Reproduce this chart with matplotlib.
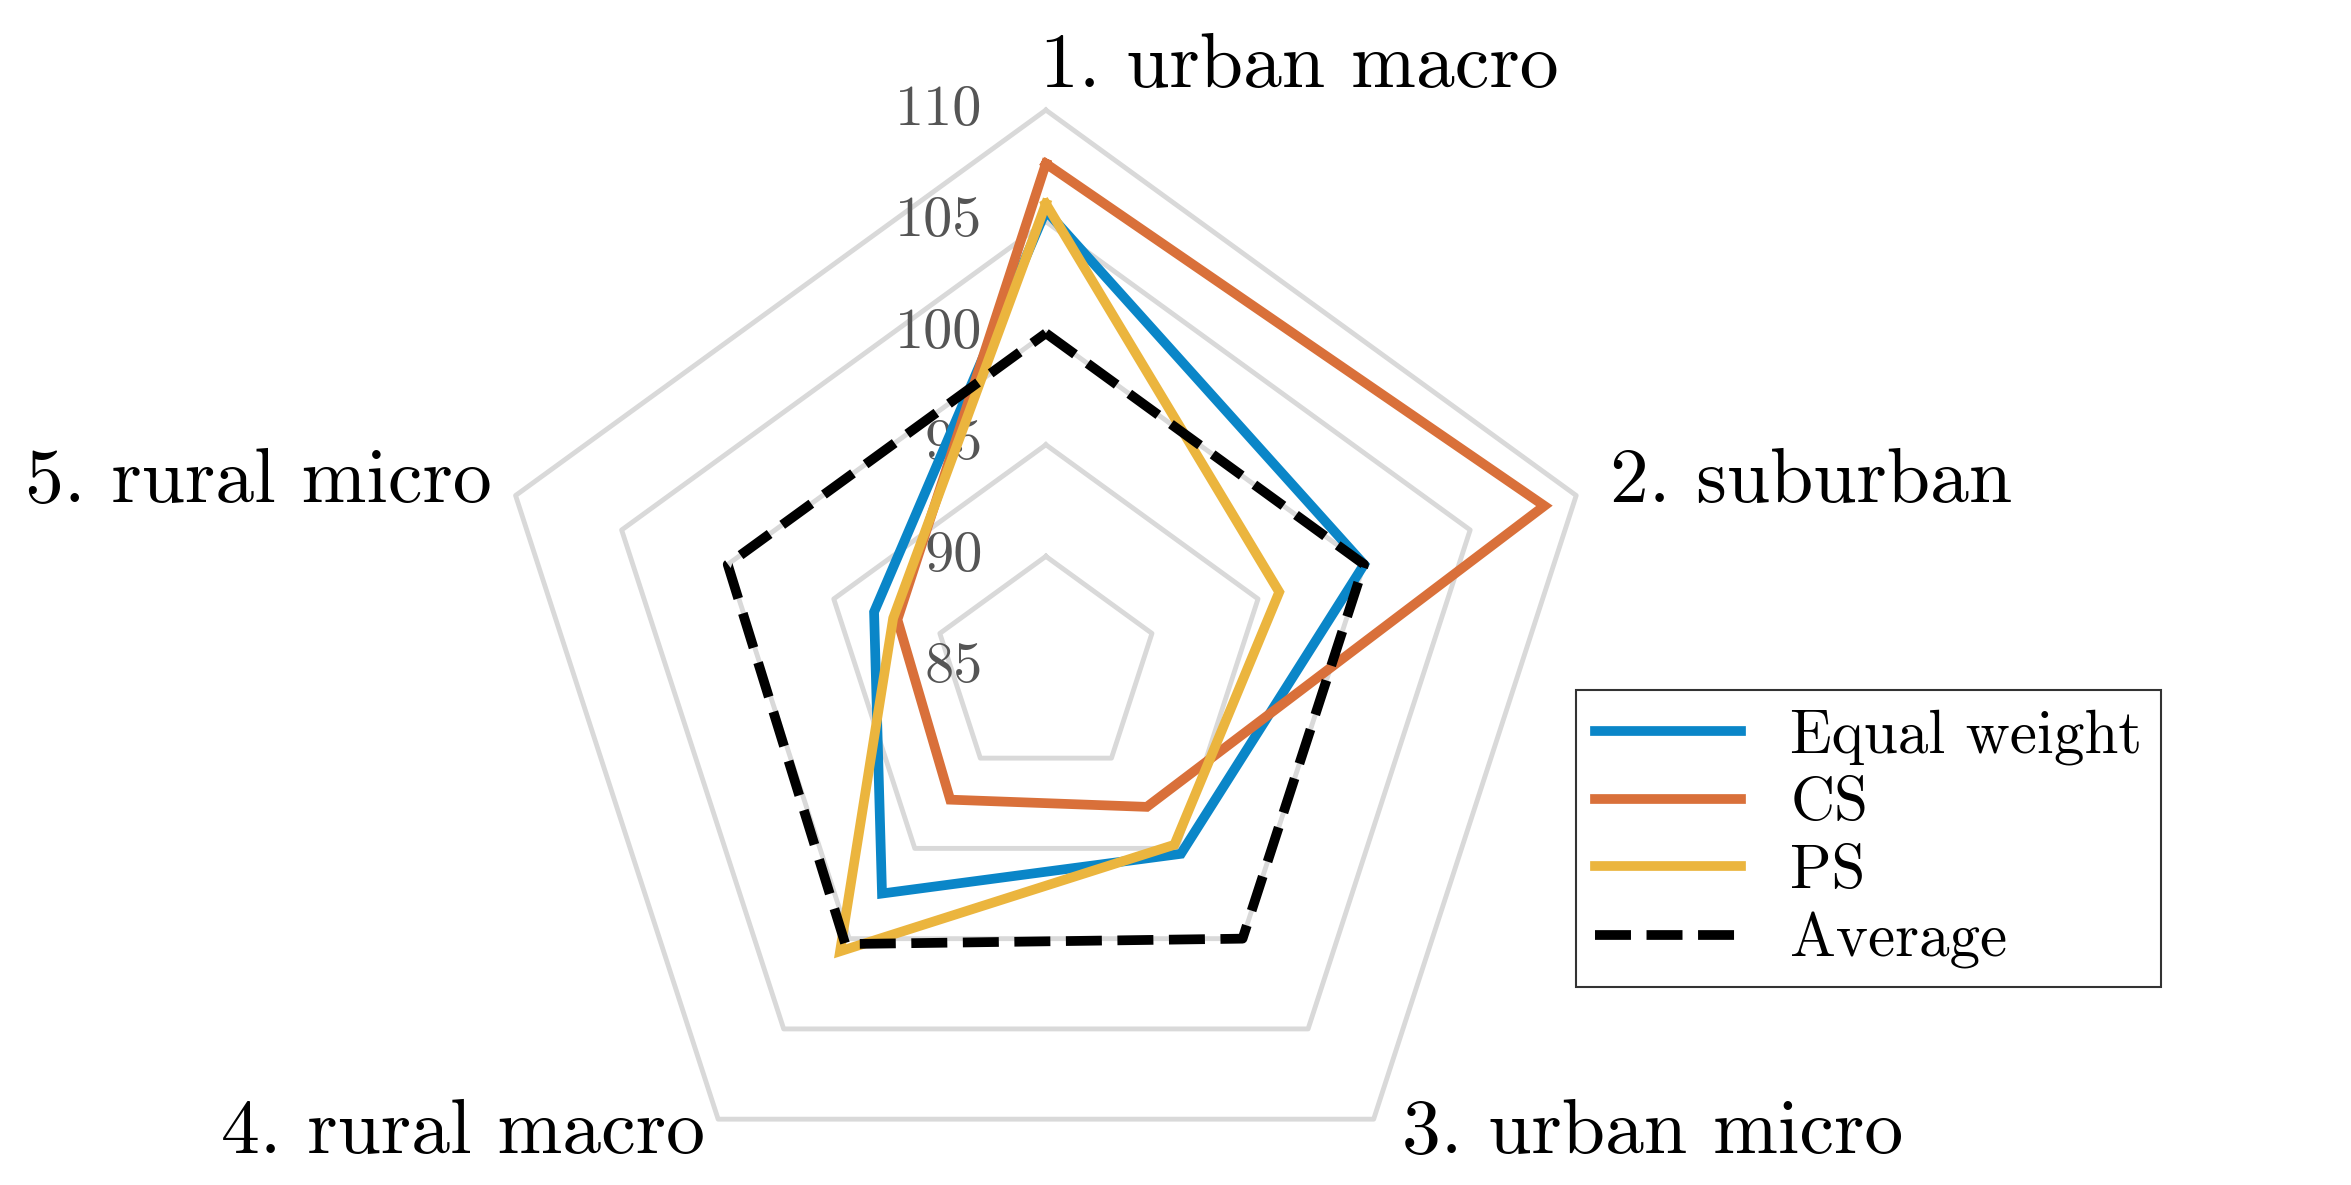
import numpy as np
import matplotlib
matplotlib.use("Agg")
import matplotlib.pyplot as plt

plt.rcParams['font.family'] = ['serif']
plt.rcParams['font.serif'] = ['cmr10', 'DejaVu Serif']
plt.rcParams['axes.unicode_minus'] = False

categories = ["1. urban macro", "2. suburban", "3. urban micro", "4. rural macro", "5. rural micro"]
equal_weight = [105.5, 100.0, 95.3, 97.5, 93.1]
cs = [107.6, 108.5, 92.7, 92.3, 92.0]
ps = [105.8, 96.0, 94.8, 100.7, 92.2]
average = [100.0, 100.0, 100.0, 100.3, 100.0]
rings = [90, 95, 100, 105, 110]
tick_labels = ["85", "90", "95", "100", "105", "110"]
rmin = 85

cx, cy, scale = 694, 443, 14.8
angles = np.deg2rad(90 - 72 * np.arange(5))

def xy(vals):
    r = (np.asarray(vals, float) - rmin) * scale
    x = cx + r * np.cos(angles)
    y = cy - r * np.sin(angles)
    return np.append(x, x[0]), np.append(y, y[0])

fig = plt.figure(figsize=(23.51, 11.85), dpi=100)
ax = fig.add_axes([0, 0, 1, 1])
ax.set_xlim(0, 1560)
ax.set_ylim(786, 0)
ax.axis('off')

for rv in rings:
    x, y = xy([rv] * 5)
    ax.plot(x, y, color='#d9d9d9', lw=3.5, zorder=1)

series = [("Equal weight", equal_weight, '#0a86c8', '-'),
          ("CS", cs, '#d9703a', '-'),
          ("PS", ps, '#ebb53e', '-'),
          ("Average", average, 'black', '--')]
for name, vals, col, ls in series:
    x, y = xy(vals)
    ax.plot(x, y, color=col, lw=7, ls=ls, label=name, zorder=3,
            solid_joinstyle='miter')

for i, t in enumerate(tick_labels):
    ax.text(652, cy - i * 5 * scale, t, ha='right', va='center', fontsize=42,
            color='#555555', zorder=2)

lab_pos = [(862, 45, 'center'), (1068, 320, 'left'), (930, 752, 'left'),
           (468, 752, 'right'), (326, 320, 'right')]
for c, (x, y, ha) in zip(categories, lab_pos):
    ax.text(x, y, c, ha=ha, va='center', fontsize=56)

leg = ax.legend(loc='upper left', bbox_to_anchor=(1046, 458),
                bbox_transform=ax.transData, fontsize=44, frameon=True,
                fancybox=False, edgecolor='black', borderaxespad=0,
                handlelength=2.4, borderpad=0.3, labelspacing=0.2)
leg.get_frame().set_linewidth(1.5)

fig.savefig("out.png", dpi=100)
